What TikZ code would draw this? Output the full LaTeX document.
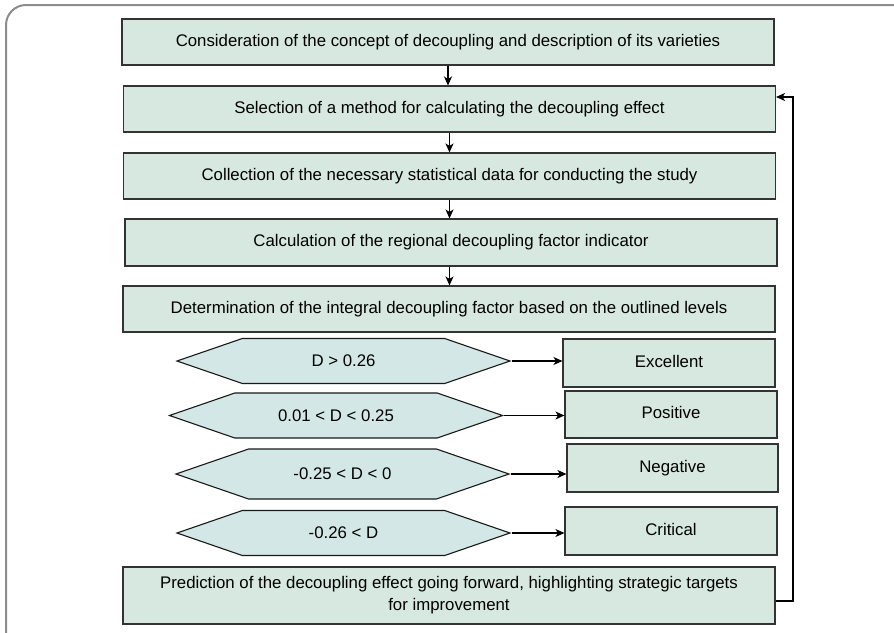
\documentclass[tikz,border=0pt]{standalone}
\usepackage{fontspec}
\setmainfont{Liberation Sans}
\usetikzlibrary{calc,shapes,arrows.meta}

\definecolor{boxgreen}{HTML}{D6E8DF}
\definecolor{hexblue}{HTML}{D3E8E6}
\definecolor{framegray}{HTML}{8C8C8C}

\begin{document}
\begin{tikzpicture}[x=1pt,y=-1pt,
    stepbox/.style={draw=black!80,line width=1.1pt,fill=boxgreen,inner sep=0pt,
      minimum width=652pt,minimum height=46pt,font=\fontsize{16.8}{22}\selectfont,align=center},
    levelbox/.style={stepbox,minimum width=212pt,minimum height=48pt},
    rangehex/.style={draw=black!90,line width=1.1pt,fill=hexblue,inner sep=0pt,
      signal,signal to=west and east,signal pointer angle=38,
      minimum width=333pt,minimum height=45pt,font=\fontsize{16.8}{20}\selectfont},
    arr/.style={line width=1.1pt,-{Stealth[length=9pt,width=8pt,inset=2.5pt]}}]
    \useasboundingbox (0,0) rectangle (894,632);
    \draw[framegray,line width=2pt,rounded corners=20pt] (6,5) rectangle (960,700);

    % main steps
    \node[stepbox] (s1) at (448,42) {Consideration of the concept of decoupling and description of its varieties};
    \node[stepbox] (s2) at (449.5,109) {Selection of a method for calculating the decoupling effect};
    \node[stepbox] (s3) at (449.5,176) {Collection of the necessary statistical data for conducting the study};
    \node[stepbox,minimum height=47pt] (s4) at (451,242.5) {Calculation of the regional decoupling factor indicator};
    \node[stepbox] (s5) at (449,309) {Determination of the integral decoupling factor based on the outlined levels};
    \node[stepbox,minimum height=57pt] (pred) at (449,595.5) {Prediction of the decoupling effect going forward, highlighting strategic targets\\for improvement};

    % levels
    \node[rangehex] (h1) at (343.5,361) {D > 0.26};
    \node[rangehex] (h2) at (336,415.5) {0.01 < D < 0.25};
    \node[rangehex,minimum height=50pt] (h3) at (342.5,474) {-0.25 < D < 0};
    \node[rangehex] (h4) at (343.5,533) {-0.26 < D};

    \node[levelbox] (exc) at (669,363) {\raisebox{4pt}{Excellent}};
    \node[levelbox,minimum height=47pt] (pos) at (671,414.5) {\raisebox{4pt}{Positive}};
    \node[levelbox,minimum width=211pt] (neg) at (672.5,468) {\raisebox{4pt}{Negative}};
    \node[levelbox] (crit) at (671,531) {\raisebox{4pt}{Critical}};

    % arrows
    \draw[arr] (s1.south) -- (s1.south |- s2.north);
    \draw[arr] (s2.south) -- (s2.south |- s3.north);
    \draw[arr] (s3.south) -- (s3.south |- s4.north);
    \draw[arr] (s4.south -| s3.south) -- (s3.south |- s5.north);

    \draw[arr] (h1.east) -- (h1.east -| exc.west);
    \draw[arr] (h2.east) -- (h2.east -| pos.west);
    \draw[arr] (h3.east) -- (h3.east -| neg.west);
    \draw[arr] (h4.east) -- (h4.east -| crit.west);

    \coordinate (back) at (793,97);
    \draw[arr] ([yshift=-5.5pt]pred.east) -| (back) -- (back -| s2.east);
\end{tikzpicture}
\end{document}
